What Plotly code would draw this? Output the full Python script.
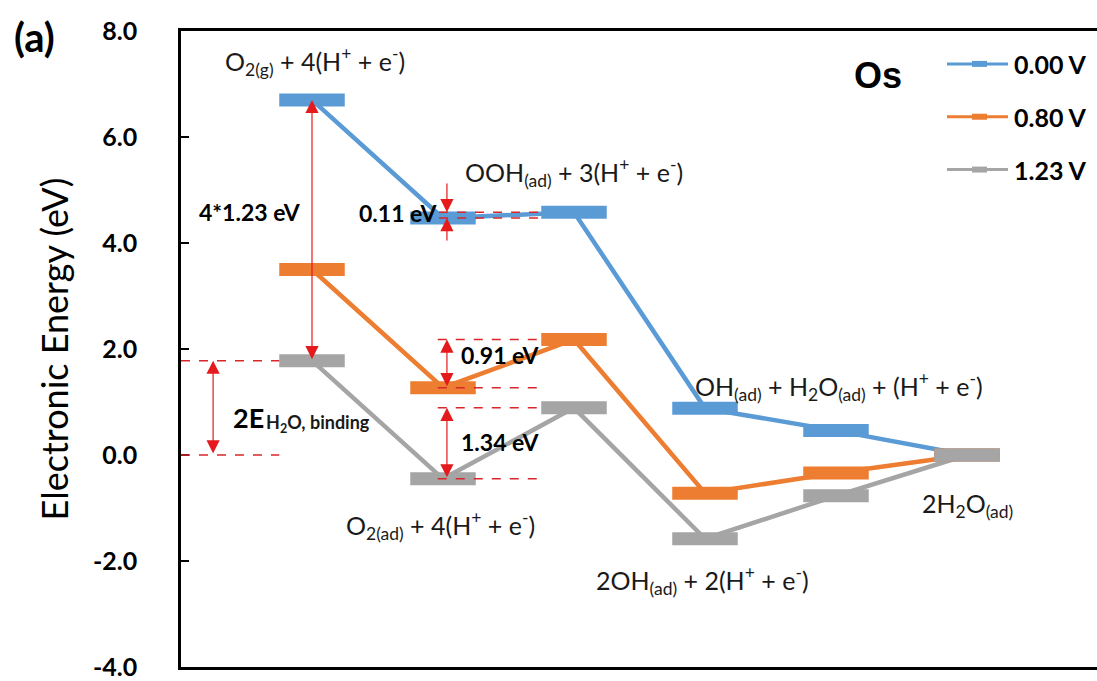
import plotly.graph_objects as go

# Reaction steps of the 4e- oxygen reduction path on Os
steps = [1, 2, 3, 4, 5, 6]
step_labels = [
    "O<sub>2(g)</sub> + 4(H<sup>+</sup> + e<sup>-</sup>)",
    "O<sub>2(ad)</sub> + 4(H<sup>+</sup> + e<sup>-</sup>)",
    "OOH<sub>(ad)</sub> + 3(H<sup>+</sup> + e<sup>-</sup>)",
    "2OH<sub>(ad)</sub> + 2(H<sup>+</sup> + e<sup>-</sup>)",
    "OH<sub>(ad)</sub> + H<sub>2</sub>O<sub>(ad)</sub> + (H<sup>+</sup> + e<sup>-</sup>)",
    "2H<sub>2</sub>O<sub>(ad)</sub>",
]

# Electronic energies (eV) at each applied potential
energy_000V = [6.70, 4.47, 4.58, 0.88, 0.46, 0.00]
energy_080V = [3.50, 1.27, 2.18, -0.72, -0.34, 0.00]
energy_123V = [1.78, -0.45, 0.89, -1.58, -0.77, 0.00]

series_names = ["0.00 V", "0.80 V", "1.23 V"]
series_values = [energy_000V, energy_080V, energy_123V]
series_colors = ["#5B9BD5", "#ED7D31", "#A5A5A5"]

y_ticks = [-4, -2, 0, 2, 4, 6, 8]
y_ticktext = [f"{v:.1f}" for v in y_ticks]

HALF = 0.25  # half width of an energy level bar (x units)
W, H = 1097, 681
ML, MR, MT, MB = 181, 0, 31, 12
FONT = "Lato"

fig = go.Figure()

# connectors between consecutive levels
for name, vals, col in zip(series_names, series_values, series_colors):
    fig.add_trace(go.Scatter(x=steps, y=vals, mode="lines",
                             line=dict(color=col, width=4.5),
                             showlegend=False, hoverinfo="skip"))

# thick horizontal energy levels
for name, vals, col in zip(series_names, series_values, series_colors):
    xs, ys = [], []
    for s, v in zip(steps, vals):
        xs += [s - HALF, s + HALF, None]
        ys += [v, v, None]
    fig.add_trace(go.Scatter(x=xs, y=ys, mode="lines", name=name,
                             line=dict(color=col, width=13),
                             showlegend=False, hoverinfo="skip"))

RED = "#E41A1C"
DASH_RED = "#D9262B"

shapes = []
annotations = []


def dashed(x0, x1, y):
    shapes.append(dict(type="line", xref="x", yref="y", x0=x0, x1=x1, y0=y, y1=y,
                       line=dict(color=DASH_RED, width=1.5, dash="dash"), layer="above"))


def arrow(x, y_tail, y_head, both=False):
    annotations.append(dict(x=x, y=y_head, ax=x, ay=y_tail, xref="x", yref="y",
                            axref="x", ayref="y", text="", showarrow=True,
                            arrowhead=2, arrowsize=2.2, arrowwidth=1.2,
                            startarrowhead=2, startarrowsize=2.2,
                            arrowside="end+start" if both else "end",
                            arrowcolor=RED, standoff=0, startstandoff=0))


g, o, b = energy_123V, energy_080V, energy_000V

# 4*1.23 eV span at the first step
arrow(steps[0], g[0], b[0], both=True)
# water binding energy
dashed(0, steps[0] - HALF, g[0])
dashed(0, steps[0] - HALF, g[5])
arrow(0.245, g[5], g[0], both=True)
# 0.11 eV step at 0.00 V
xa = 2.03
dashed(1.97, steps[2] - HALF, b[2])
dashed(1.97, steps[2] - HALF, b[1])
arrow(xa, 5.15, b[2])
arrow(xa, 4.02, b[1])
# 0.91 eV step at 0.80 V
dashed(1.96, steps[2] - HALF, o[2])
dashed(1.96, steps[2] - HALF, o[1])
arrow(xa, o[1], o[2], both=True)
# 1.34 eV step at 1.23 V
dashed(1.96, steps[2] - HALF, g[2])
dashed(1.96, steps[2] - HALF, g[1])
arrow(xa, g[1], g[2], both=True)


def label(x, y, text, size=25, bold=False, xanchor="center", color="#1a1a1a"):
    annotations.append(dict(x=x, y=y, xref="x", yref="y", text=text, showarrow=False,
                            xanchor=xanchor, yanchor="middle",
                            font=dict(family=FONT, size=size, color=color,
                                      weight="bold" if bold else "normal")))


# species labels
label(1.02, 7.42, step_labels[0])
label(1.98, -1.33, step_labels[1])
label(3.0, 5.33, step_labels[2])
label(3.98, -2.36, step_labels[3])
label(5.02, 1.30, step_labels[4])
label(6.0, -0.95, step_labels[5])

# energy differences
label(0.53, 4.59, f"{4}*{1.23:.2f} eV", size=23, bold=True, color="#000")
label(1.66, 4.57, f"{b[2] - b[1]:.2f} eV", size=23, bold=True, color="#000")
label(2.44, 1.88, f"{o[2] - o[1]:.2f} eV", size=23, bold=True, color="#000")
label(2.44, 0.25, f"{g[2] - g[1]:.2f} eV", size=23, bold=True, color="#000")
label(0.38, 0.70, "2E", size=27, bold=True, xanchor="left", color="#000")
label(0.63, 0.60, "H<sub>2</sub>O, binding", size=18, bold=True, xanchor="left", color="#1a1a1a")


def px_x(p):
    return (p - ML) / (W - ML - MR)


def px_y(p):
    return (H - MB - p) / (H - MT - MB)


# panel tag and metal
annotations.append(dict(x=px_x(34), y=px_y(37), xref="paper", yref="paper", yanchor="middle",
                        text="(a)", showarrow=False, xanchor="center",
                        font=dict(family=FONT, size=40, color="#000", weight="bold")))
annotations.append(dict(x=px_x(878), y=px_y(76), xref="paper", yref="paper",
                        text="Os", showarrow=False, xanchor="center", yanchor="middle",
                        font=dict(family="Liberation Sans", size=36, color="#000", weight="bold")))

# legend
for i, (name, col) in enumerate(zip(series_names, series_colors)):
    py = 64 + i * 53
    shapes.append(dict(type="line", xref="paper", yref="paper",
                       x0=px_x(947), x1=px_x(1008), y0=px_y(py), y1=px_y(py),
                       line=dict(color=col, width=3)))
    shapes.append(dict(type="rect", xref="paper", yref="paper",
                       x0=px_x(972), x1=px_x(987), y0=px_y(py + 3), y1=px_y(py - 3),
                       line=dict(width=0), fillcolor=col))
    annotations.append(dict(x=px_x(1012), y=px_y(py), xref="paper", yref="paper",
                            text=name, showarrow=False, xanchor="left", yanchor="middle",
                            font=dict(family=FONT, size=25, color="#000", weight="bold")))

fig.update_layout(
    width=W, height=H,
    margin=dict(l=ML, r=MR, t=MT, b=MB),
    paper_bgcolor="white", plot_bgcolor="white",
    shapes=shapes, annotations=annotations,
    showlegend=False,
    xaxis=dict(range=[0, (W - ML - MR) / 131], showgrid=False, zeroline=False,
               showticklabels=False, ticks="", showline=True, mirror=True,
               linecolor="#000", linewidth=2.5),
    yaxis=dict(range=[-4, 8], tickvals=y_ticks, ticktext=y_ticktext,
               ticks="inside", ticklen=8, tickwidth=2, tickcolor="#000",
               showgrid=False, zeroline=False, showline=True, linecolor="#000",
               linewidth=2.5, ticklabelstandoff=36, ticklabeloverflow="allow",
               tickfont=dict(family=FONT, size=25, color="#000", weight="bold"),
               title=dict(text="Electronic Energy (eV)", standoff=14,
                          font=dict(family=FONT, size=36, color="#000"))),
)

fig.write_html("out.html")
